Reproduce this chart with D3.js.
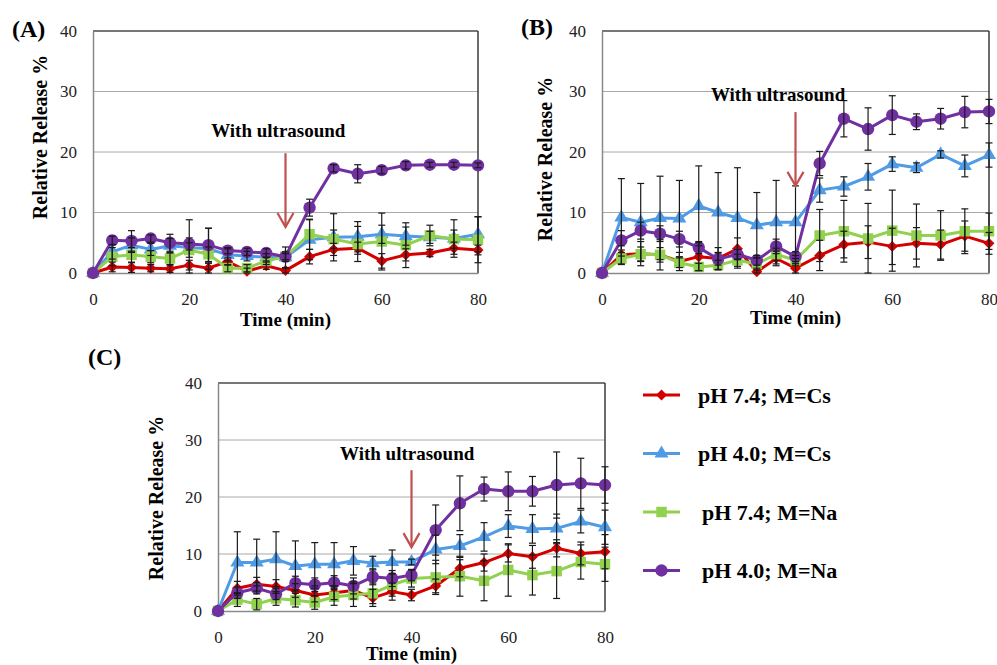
<!DOCTYPE html>
<html lang="en">
<head>
    <meta charset="UTF-8">
    <title>Relative release with ultrasound</title>
    <script src="https://cdn.jsdelivr.net/npm/d3@7"></script>
    <style>
        html, body {
            margin: 0;
            background: #fff;
        }
        svg text {
            font-family: "Liberation Serif", "Times New Roman", serif;
        }
    </style>
</head>
<body>
    <div id="vis"></div>

    <script>

        /*
         *  DATA
         */
        var times = [0, 4, 8, 12, 16, 20, 24, 28, 32, 36, 40, 45, 50, 55, 60, 65, 70, 75, 80];
        var xTicks = [0, 20, 40, 60, 80];
        var yTicks = [0, 10, 20, 30, 40];
        var seriesNames = ["pH 7.4; M=Cs", "pH 4.0; M=Cs", "pH 7.4; M=Na", "pH 4.0; M=Na"];

        // panel (A)
        var redA    = [0, 1.0, 0.9, 0.8, 0.7, 1.3, 0.8, 1.9, 0.3, 1.2, 0.4, 2.7, 3.9, 4.1, 2.0, 3.0, 3.3, 4.1, 3.8];
        var blueA   = [0, 3.5, 4.6, 3.9, 4.5, 4.2, 4.0, 3.0, 2.8, 2.6, 2.6, 5.5, 5.9, 6.0, 6.4, 6.1, 5.9, 5.7, 6.4];
        var greenA  = [0, 2.7, 3.0, 2.7, 2.4, 3.8, 3.1, 0.8, 0.8, 2.0, 2.7, 6.4, 5.6, 4.8, 5.2, 4.6, 6.2, 5.6, 5.5];
        var purpleA = [0, 5.4, 5.3, 5.7, 5.0, 4.8, 4.6, 3.7, 3.5, 3.3, 2.7, 10.8, 17.3, 16.4, 17.0, 17.8, 17.9, 17.9, 17.8];
        var redErrA    = [0, 0.8, 0.8, 0.6, 0.6, 0.8, 0.8, 0.6, 0.5, 0.6, 0.4, 1.2, 1.0, 1.0, 1.2, 1.0, 0.6, 1.0, 0.8];
        var blueErrA   = [0, 1.2, 1.2, 1.0, 1.2, 4.6, 3.4, 1.0, 0.8, 0.6, 1.7, 3.3, 3.9, 2.5, 1.5, 1.5, 1.0, 3.1, 2.9];
        var greenErrA  = [0, 1.5, 1.2, 1.0, 1.0, 1.2, 1.2, 0.6, 0.6, 0.6, 0.8, 2.5, 1.5, 2.9, 4.7, 3.7, 1.7, 1.5, 3.8];
        var purpleErrA = [0, 0.7, 1.7, 0.6, 1.4, 1.0, 2.8, 0.5, 0.6, 0.7, 0.5, 1.4, 0.6, 1.5, 0.6, 0.6, 0.4, 0.4, 0.4];

        // panel (B)
        var redB    = [0, 3.0, 3.2, 3.0, 1.9, 2.7, 2.4, 4.0, 0.2, 2.4, 0.8, 2.9, 4.7, 5.1, 4.4, 4.9, 4.7, 6.1, 4.9];
        var blueB   = [0, 9.2, 8.4, 9.1, 9.0, 11.1, 10.0, 9.1, 7.9, 8.4, 8.4, 13.7, 14.3, 15.9, 18.0, 17.4, 19.6, 17.7, 19.5];
        var greenB  = [0, 2.4, 3.1, 3.0, 1.7, 1.0, 1.3, 2.1, 1.5, 3.1, 2.1, 6.2, 6.9, 5.7, 7.0, 6.2, 6.2, 6.9, 6.9];
        var purpleB = [0, 5.4, 7.0, 6.5, 5.6, 4.2, 2.3, 3.1, 2.1, 4.4, 2.7, 18.1, 25.5, 23.8, 26.1, 25.0, 25.5, 26.6, 26.7];
        var redErrB    = [0, 1.5, 2.0, 2.5, 1.5, 2.3, 1.8, 1.8, 0.6, 1.2, 0.8, 2.5, 2.2, 2.7, 3.0, 2.6, 2.4, 2.5, 1.8];
        var blueErrB   = [0, 6.4, 6.4, 6.9, 6.3, 6.6, 6.6, 8.3, 5.4, 6.9, 6.0, 2.0, 1.6, 2.2, 1.2, 0.8, 0.6, 1.8, 2.0];
        var greenErrB  = [0, 1.0, 1.2, 1.2, 0.8, 0.6, 0.8, 1.0, 1.0, 1.0, 0.8, 4.3, 5.1, 5.8, 6.7, 5.2, 4.1, 3.7, 3.0];
        var purpleErrB = [0, 1.6, 1.4, 1.3, 1.3, 1.0, 1.0, 0.8, 0.8, 1.2, 0.8, 2.0, 3.0, 3.5, 3.2, 1.3, 1.7, 2.6, 2.0];

        // panel (C)
        var redC    = [0, 4.0, 4.7, 4.3, 3.6, 2.8, 3.2, 3.6, 2.3, 3.4, 2.8, 4.4, 7.5, 8.5, 10.1, 9.5, 11.0, 10.1, 10.4];
        var blueC   = [0, 8.5, 8.5, 9.1, 7.9, 8.2, 8.2, 8.8, 8.4, 8.6, 8.6, 10.8, 11.4, 13.0, 14.9, 14.4, 14.5, 15.7, 14.7];
        var greenC  = [0, 2.0, 1.2, 2.2, 1.9, 1.5, 2.5, 2.8, 3.1, 4.6, 5.7, 5.9, 6.1, 5.3, 7.2, 6.3, 7.0, 8.6, 8.2];
        var purpleC = [0, 3.2, 4.0, 3.0, 4.9, 4.6, 5.0, 4.4, 6.0, 5.7, 6.3, 14.2, 18.9, 21.4, 21.0, 21.0, 22.1, 22.4, 22.1];
        var redErrC    = [0, 1.2, 1.2, 1.2, 1.2, 1.2, 1.2, 1.5, 1.5, 1.5, 1.0, 1.2, 1.5, 1.5, 1.5, 2.0, 1.5, 2.0, 3.0];
        var blueErrC   = [0, 5.4, 4.1, 4.8, 4.4, 3.8, 3.8, 2.5, 1.2, 2.1, 0.5, 2.5, 2.0, 2.5, 2.0, 2.5, 2.5, 2.0, 3.0];
        var greenErrC  = [0, 1.2, 1.0, 1.2, 1.2, 1.2, 1.5, 2.0, 1.8, 2.0, 1.5, 3.0, 3.5, 3.5, 4.6, 3.5, 4.8, 3.0, 3.0];
        var purpleErrC = [0, 1.0, 1.0, 1.0, 1.2, 1.2, 1.2, 1.4, 1.4, 1.4, 1.0, 4.4, 4.8, 2.1, 3.4, 2.6, 5.8, 4.4, 3.2];

        // ultrasound switched on at this time; arrow drawn from/to these values
        var ultrasoundTime = 40;
        var arrowFrom = [19.8, 26.6, 24.7];
        var arrowTo = [7.6, 14.4, 11.2];

        /*
         *  LAYOUT / STYLE
         */
        var colors = ["#d40000", "#4f9be6", "#92d050", "#7030a0"];
        var shapes = ["diamond", "triangle", "square", "circle"];

        var panels = [
            {label: "(A)", left: 93, top: 31, right: 478, bottom: 273,
             labelX: 12, labelY: 37, titleX: 40, titleY: 137, timeY: 53,
             noteX: 38.5, noteY: 22.5,
             values: [redA, blueA, greenA, purpleA],
             errors: [redErrA, blueErrA, greenErrA, purpleErrA]},
            {label: "(B)", left: 602, top: 31, right: 989, bottom: 273,
             labelX: 521, labelY: 35, titleX: 545, titleY: 159, timeY: 51,
             noteX: 36.4, noteY: 28.5,
             values: [redB, blueB, greenB, purpleB],
             errors: [redErrB, blueErrB, greenErrB, purpleErrB]},
            {label: "(C)", left: 218, top: 383, right: 605, bottom: 611,
             labelX: 88, labelY: 365, titleX: 156, titleY: 498, timeY: 49,
             noteX: 39.1, noteY: 26.5,
             values: [redC, blueC, greenC, purpleC],
             errors: [redErrC, blueErrC, greenErrC, purpleErrC]}
        ];

        var svg = d3.select("#vis")
            .append("svg")
                .attr("width", 997)
                .attr("height", 665);

        function symbolPath(shape) {
            if (shape === "diamond") return d3.symbol().type(d3.symbolSquare).size(60)();
            if (shape === "triangle") return d3.symbol().type(d3.symbolTriangle).size(85)();
            if (shape === "square") return d3.symbol().type(d3.symbolSquare).size(110)();
            return d3.symbol().type(d3.symbolCircle).size(120)();
        }
        function symbolTransform(shape, px, py) {
            return "translate(" + px + "," + py + ")" + (shape === "diamond" ? " rotate(45)" : "");
        }

        panels.forEach(function(p, pi) {
            var x = d3.scaleLinear().domain([0, 80]).range([p.left, p.right]);
            var y = d3.scaleLinear().domain([0, 40]).range([p.bottom, p.top]);
            var g = svg.append("g");

            // grid lines
            g.selectAll(".grid")
                .data(yTicks.slice(1, -1))
                .enter().append("line")
                    .attr("x1", p.left).attr("x2", p.right)
                    .attr("y1", function(d) { return y(d); })
                    .attr("y2", function(d) { return y(d); })
                    .attr("stroke", "#a8a8a8")
                    .attr("stroke-width", 1);

            // plot box: top/right dark, left/bottom from the axes
            g.append("line")
                .attr("x1", p.left).attr("x2", p.right)
                .attr("y1", p.top).attr("y2", p.top)
                .attr("stroke", "#4a4a4a").attr("stroke-width", 1.5);
            g.append("line")
                .attr("x1", p.right).attr("x2", p.right)
                .attr("y1", p.top).attr("y2", p.bottom)
                .attr("stroke", "#3a3a3a").attr("stroke-width", 1.5);

            var yAxis = g.append("g")
                .attr("transform", "translate(" + p.left + ",0)")
                .call(d3.axisLeft(y).tickValues(yTicks).tickSize(0).tickPadding(16));
            var xAxis = g.append("g")
                .attr("transform", "translate(0," + p.bottom + ")")
                .call(d3.axisBottom(x).tickValues(xTicks).tickSize(0).tickPadding(20));
            [xAxis, yAxis].forEach(function(a) {
                a.attr("font-family", null);
                a.select(".domain").attr("stroke", "#8a8a8a").attr("stroke-width", 1.5);
                a.selectAll("text")
                    .attr("font-size", 17)
                    .attr("fill", "#222");
            });

            // titles
            g.append("text")
                .attr("x", x(40))
                .attr("y", p.bottom + p.timeY)
                .attr("text-anchor", "middle")
                .attr("font-size", 19)
                .attr("font-weight", "bold")
                .text("Time (min)");
            g.append("text")
                .attr("transform", "translate(" + (p.titleX + 7) + "," + p.titleY + ") rotate(-90)")
                .attr("text-anchor", "middle")
                .attr("font-size", 20)
                .attr("font-weight", "bold")
                .text("Relative Release %");
            g.append("text")
                .attr("x", p.labelX)
                .attr("y", p.labelY)
                .attr("font-size", 24)
                .attr("font-weight", "bold")
                .text(p.label);

            // lines + markers
            var line = d3.line()
                .x(function(d, i) { return x(times[i]); })
                .y(function(d) { return y(d); });

            p.values.forEach(function(vals, si) {
                g.append("path")
                    .datum(vals)
                    .attr("d", line)
                    .attr("fill", "none")
                    .attr("stroke", colors[si])
                    .attr("stroke-width", 3)
                    .attr("stroke-linejoin", "round");
                g.selectAll(".m" + si)
                    .data(vals)
                    .enter().append("path")
                        .attr("d", symbolPath(shapes[si]))
                        .attr("transform", function(d, i) { return symbolTransform(shapes[si], x(times[i]), y(d)); })
                        .attr("fill", colors[si]);
            });

            // error bars
            p.values.forEach(function(vals, si) {
                var errs = p.errors[si];
                var eb = g.selectAll(".e" + si)
                    .data(vals.map(function(v, i) { return {t: times[i], v: v, e: errs[i]}; })
                        .filter(function(d) { return d.e > 0; }))
                    .enter().append("g");
                eb.append("line")
                    .attr("x1", function(d) { return x(d.t); })
                    .attr("x2", function(d) { return x(d.t); })
                    .attr("y1", function(d) { return y(Math.max(0, d.v - d.e)); })
                    .attr("y2", function(d) { return y(d.v + d.e); });
                [1, -1].forEach(function(sgn) {
                    eb.append("line")
                        .attr("x1", function(d) { return x(d.t) - 3.5; })
                        .attr("x2", function(d) { return x(d.t) + 3.5; })
                        .attr("y1", function(d) { return y(Math.max(0, d.v + sgn * d.e)); })
                        .attr("y2", function(d) { return y(Math.max(0, d.v + sgn * d.e)); });
                });
                eb.selectAll("line")
                    .attr("stroke", "#1a1a1a")
                    .attr("stroke-width", 1.2);
            });

            // ultrasound annotation
            g.append("text")
                .attr("x", x(p.noteX))
                .attr("y", y(p.noteY))
                .attr("text-anchor", "middle")
                .attr("font-size", 19)
                .attr("font-weight", "bold")
                .text("With ultrasound");
            var ax = x(ultrasoundTime);
            var aTip = y(arrowTo[pi]);
            g.append("line")
                .attr("x1", ax).attr("x2", ax)
                .attr("y1", y(arrowFrom[pi])).attr("y2", aTip)
                .attr("stroke", "#c0504d").attr("stroke-width", 2.2);
            g.append("path")
                .attr("d", "M" + (ax - 8) + "," + (aTip - 14) + "L" + ax + "," + aTip + "L" + (ax + 8) + "," + (aTip - 14))
                .attr("fill", "none")
                .attr("stroke", "#c0504d").attr("stroke-width", 2.2);
        });

        // legend
        var legend = svg.append("g")
            .selectAll("g")
            .data(seriesNames)
            .enter().append("g")
                .attr("transform", function(d, i) { return "translate(643," + (395 + i * 58.5) + ")"; });
        legend.append("line")
            .attr("x1", 0).attr("x2", 37)
            .attr("stroke", function(d, i) { return colors[i]; })
            .attr("stroke-width", 3);
        legend.append("path")
            .attr("d", function(d, i) { return symbolPath(shapes[i]); })
            .attr("transform", function(d, i) { return symbolTransform(shapes[i], 18.5, 0); })
            .attr("fill", function(d, i) { return colors[i]; });
        legend.append("text")
            .attr("x", function(d, i) { return i < 2 ? 55 : 59; })
            .attr("dy", "0.35em")
            .attr("font-size", 22)
            .attr("font-weight", "bold")
            .text(function(d) { return d; });

    </script>
</body>
</html>
